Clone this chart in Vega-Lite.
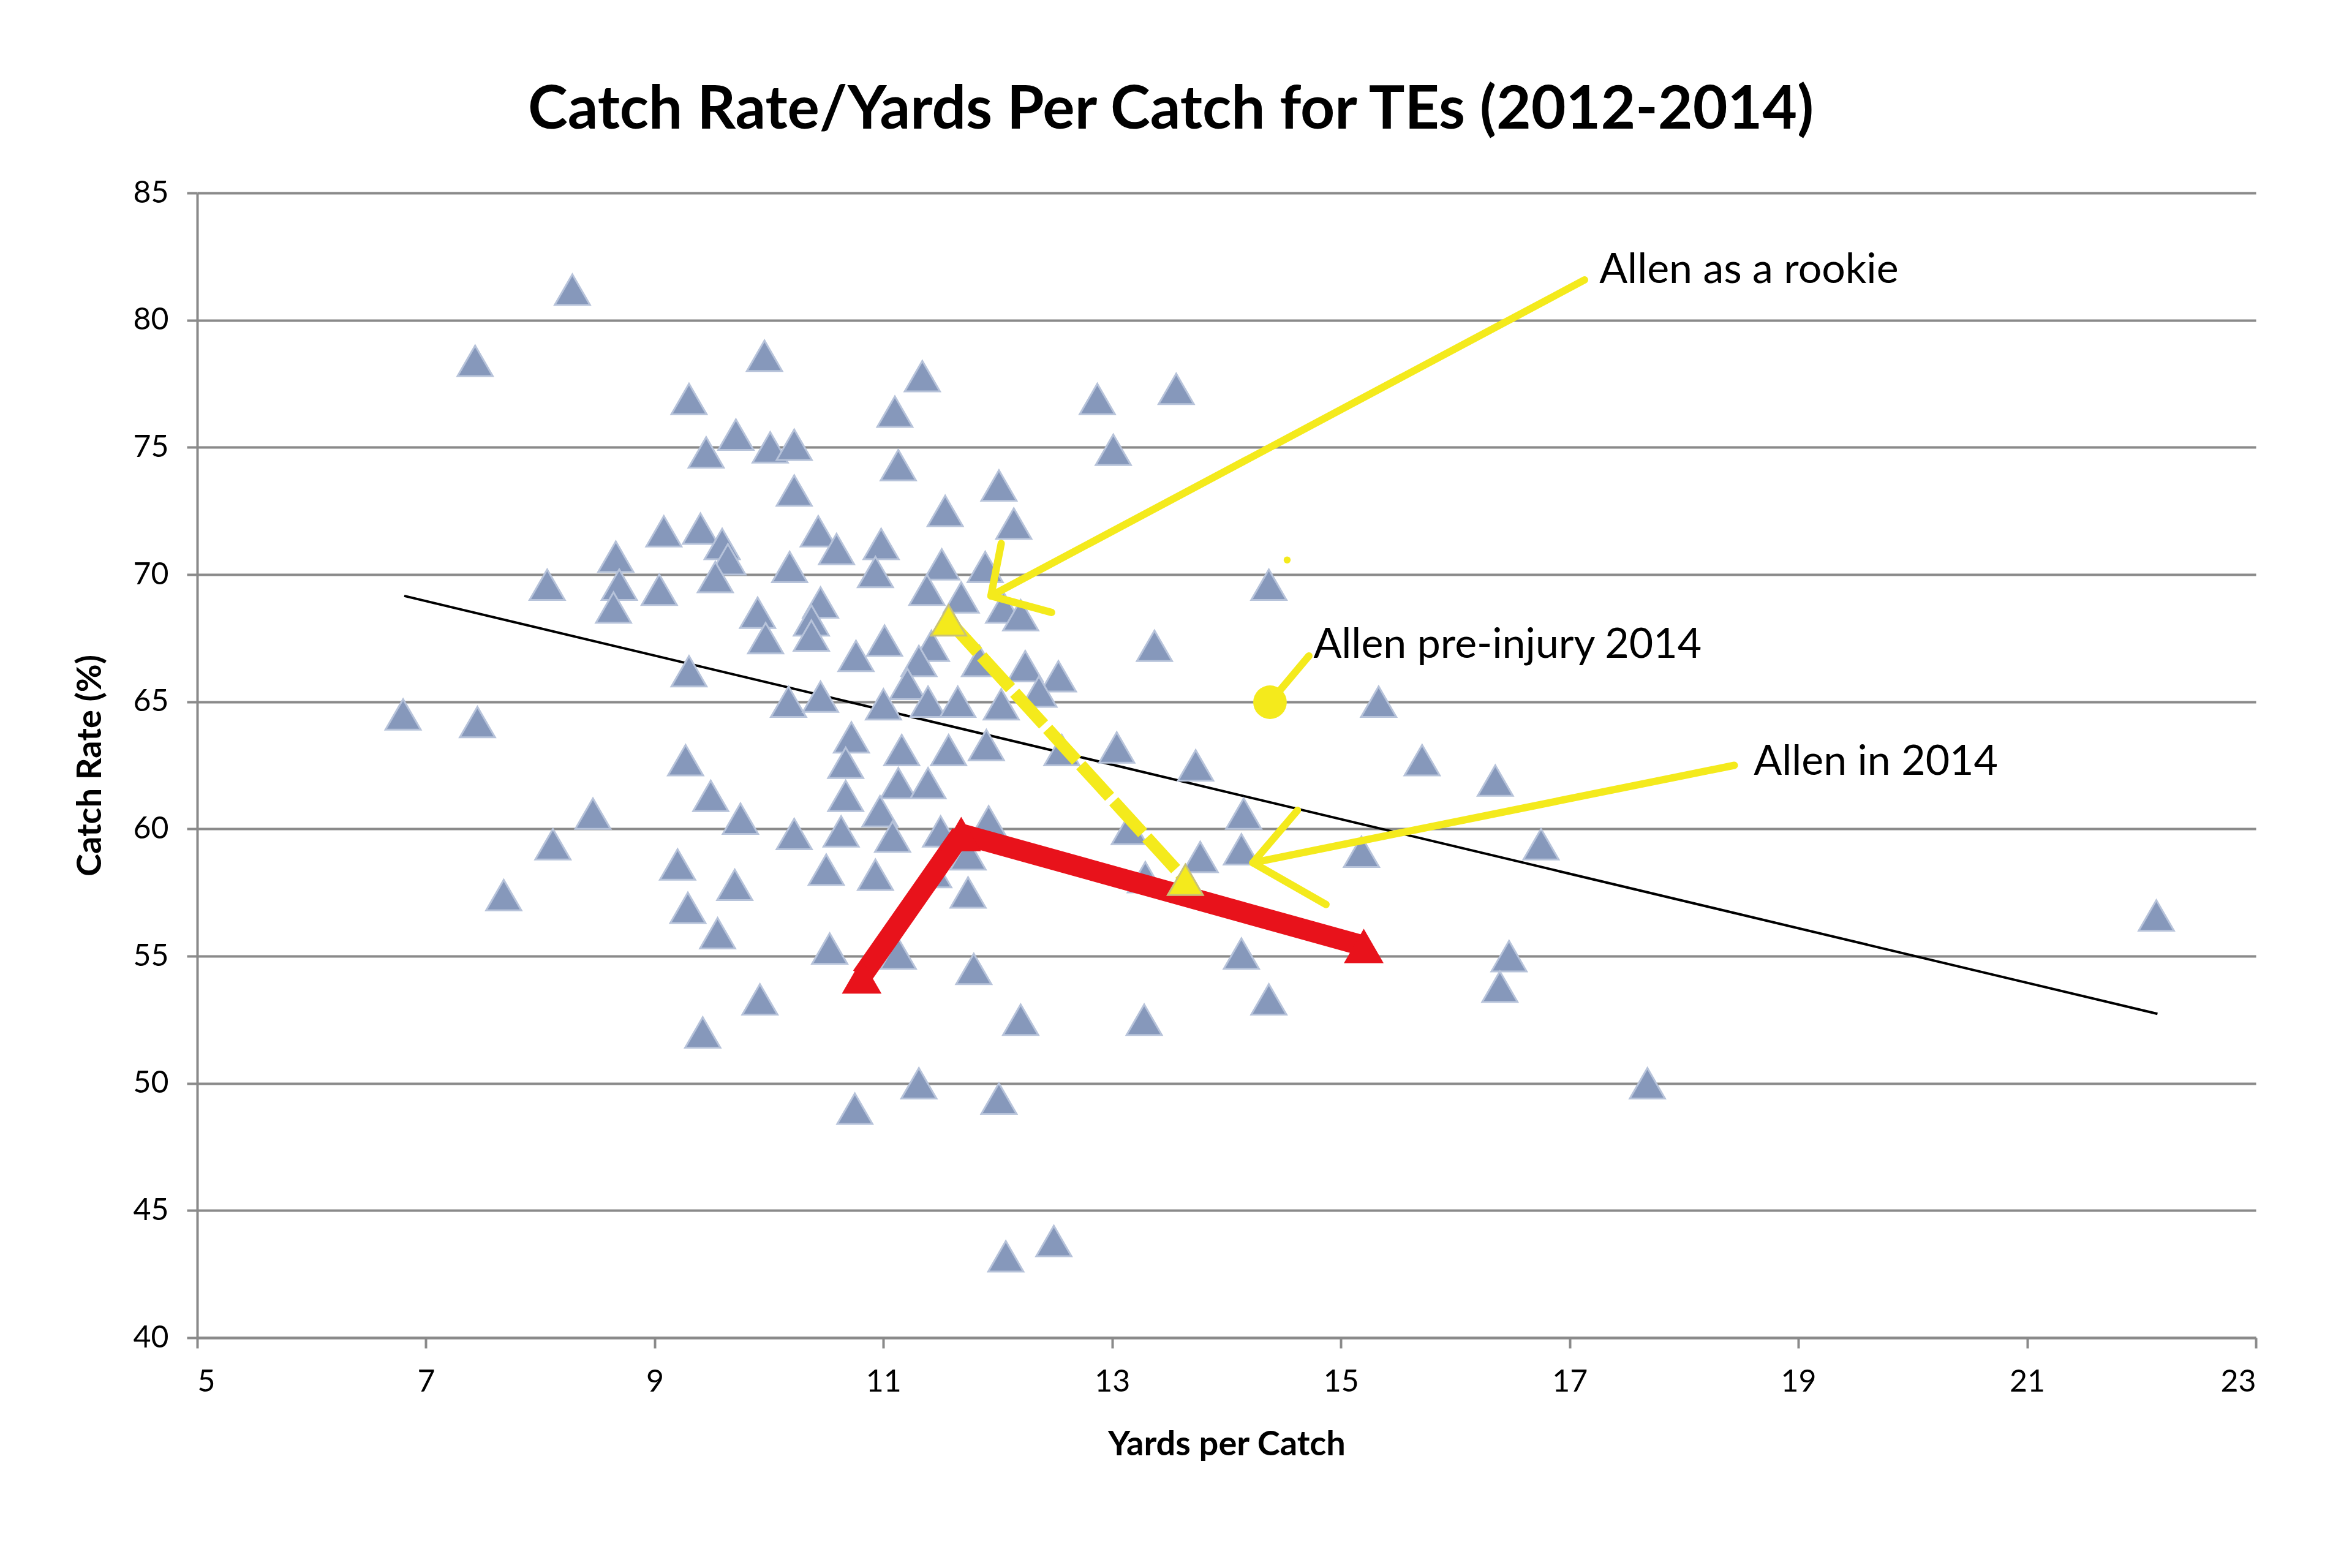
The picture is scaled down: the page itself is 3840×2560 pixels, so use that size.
{
  "$schema": "https://vega.github.io/schema/vega-lite/v6.json",
  "width": 3361,
  "height": 1869,
  "autosize": "none",
  "padding": {"left": 322, "top": 315, "right": 157, "bottom": 376},
  "background": "white",
  "title": {
    "text": "Catch Rate/Yards Per Catch for TEs (2012-2014)",
    "font": "Lato",
    "fontSize": 98,
    "fontWeight": "bold",
    "color": "#000000",
    "anchor": "middle",
    "frame": "group",
    "baseline": "alphabetic",
    "dx": -91,
    "offset": -18
  },
  "datasets": {
    "tes": [
      {"x": 8.28, "y": 81.2}, {"x": 7.43, "y": 78.4}, {"x": 9.96, "y": 78.6}, {"x": 11.34, "y": 77.8},
      {"x": 9.30, "y": 76.9}, {"x": 11.10, "y": 76.4}, {"x": 12.87, "y": 76.9}, {"x": 13.56, "y": 77.3},
      {"x": 9.71, "y": 75.5}, {"x": 9.45, "y": 74.8}, {"x": 10.01, "y": 75.0}, {"x": 10.22, "y": 75.1},
      {"x": 13.01, "y": 74.9}, {"x": 11.13, "y": 74.3}, {"x": 10.22, "y": 73.3}, {"x": 12.01, "y": 73.5},
      {"x": 11.54, "y": 72.5}, {"x": 12.14, "y": 72.0}, {"x": 9.08, "y": 71.7}, {"x": 9.40, "y": 71.8},
      {"x": 10.43, "y": 71.7}, {"x": 9.59, "y": 71.2}, {"x": 10.59, "y": 71.0}, {"x": 10.98, "y": 71.2},
      {"x": 8.66, "y": 70.7}, {"x": 9.64, "y": 70.6}, {"x": 10.18, "y": 70.3}, {"x": 10.93, "y": 70.1},
      {"x": 11.51, "y": 70.4}, {"x": 11.89, "y": 70.3}, {"x": 8.06, "y": 69.6}, {"x": 8.69, "y": 69.6},
      {"x": 9.04, "y": 69.4}, {"x": 9.53, "y": 69.9}, {"x": 11.38, "y": 69.4}, {"x": 11.68, "y": 69.1},
      {"x": 14.37, "y": 69.6}, {"x": 8.64, "y": 68.7}, {"x": 9.90, "y": 68.5}, {"x": 10.45, "y": 68.9},
      {"x": 10.37, "y": 68.2}, {"x": 12.05, "y": 68.7}, {"x": 12.20, "y": 68.4}, {"x": 9.97, "y": 67.5},
      {"x": 10.37, "y": 67.6}, {"x": 10.76, "y": 66.8}, {"x": 11.01, "y": 67.4}, {"x": 11.42, "y": 67.2},
      {"x": 11.31, "y": 66.6}, {"x": 13.37, "y": 67.2}, {"x": 9.30, "y": 66.2}, {"x": 11.84, "y": 66.6},
      {"x": 12.24, "y": 66.4}, {"x": 12.53, "y": 66.0}, {"x": 12.36, "y": 65.4}, {"x": 11.21, "y": 65.7},
      {"x": 10.17, "y": 65.0}, {"x": 10.45, "y": 65.2}, {"x": 11.00, "y": 64.9}, {"x": 11.39, "y": 65.0},
      {"x": 11.65, "y": 65.0}, {"x": 12.03, "y": 64.9}, {"x": 15.33, "y": 65.0}, {"x": 6.80, "y": 64.5},
      {"x": 7.45, "y": 64.2}, {"x": 10.72, "y": 63.6}, {"x": 11.16, "y": 63.1}, {"x": 11.57, "y": 63.1},
      {"x": 11.90, "y": 63.3}, {"x": 12.56, "y": 63.1}, {"x": 13.04, "y": 63.2}, {"x": 9.27, "y": 62.7},
      {"x": 10.67, "y": 62.6}, {"x": 13.73, "y": 62.5}, {"x": 15.71, "y": 62.7}, {"x": 16.35, "y": 61.9},
      {"x": 9.49, "y": 61.3}, {"x": 10.67, "y": 61.3}, {"x": 11.13, "y": 61.8}, {"x": 11.39, "y": 61.8},
      {"x": 10.97, "y": 60.7}, {"x": 8.46, "y": 60.6}, {"x": 9.75, "y": 60.4}, {"x": 14.15, "y": 60.6},
      {"x": 10.22, "y": 59.8}, {"x": 10.63, "y": 59.9}, {"x": 11.08, "y": 59.7}, {"x": 11.50, "y": 59.9},
      {"x": 11.92, "y": 60.3}, {"x": 13.15, "y": 60.0}, {"x": 8.11, "y": 59.4}, {"x": 14.13, "y": 59.2},
      {"x": 15.18, "y": 59.1}, {"x": 16.75, "y": 59.4}, {"x": 11.74, "y": 59.0}, {"x": 13.77, "y": 58.9},
      {"x": 9.20, "y": 58.6}, {"x": 10.50, "y": 58.4}, {"x": 10.93, "y": 58.2}, {"x": 11.44, "y": 58.3},
      {"x": 13.29, "y": 58.1}, {"x": 9.70, "y": 57.8}, {"x": 11.74, "y": 57.5}, {"x": 7.68, "y": 57.4},
      {"x": 9.29, "y": 56.9}, {"x": 9.55, "y": 55.9}, {"x": 22.13, "y": 56.6}, {"x": 10.53, "y": 55.3},
      {"x": 11.13, "y": 55.1}, {"x": 14.13, "y": 55.1}, {"x": 16.47, "y": 55.0}, {"x": 11.79, "y": 54.5},
      {"x": 16.39, "y": 53.8}, {"x": 9.92, "y": 53.3}, {"x": 14.37, "y": 53.3}, {"x": 12.20, "y": 52.5},
      {"x": 13.28, "y": 52.5}, {"x": 9.42, "y": 52.0}, {"x": 17.68, "y": 50.0}, {"x": 11.31, "y": 50.0},
      {"x": 12.01, "y": 49.4}, {"x": 10.75, "y": 49.0}, {"x": 12.07, "y": 43.2}, {"x": 12.49, "y": 43.8}
    ],
    "trend": [
      {"x": 6.81, "y": 69.16}, {"x": 22.14, "y": 52.73}
    ],
    "redlines": [
      {"seg": "a", "i": 0, "x": 11.68, "y": 59.8}, {"seg": "a", "i": 1, "x": 10.81, "y": 54.2},
      {"seg": "b", "i": 0, "x": 11.68, "y": 59.8}, {"seg": "b", "i": 1, "x": 15.2, "y": 55.4}
    ],
    "redpts": [
      {"x": 11.68, "y": 59.8}, {"x": 10.81, "y": 54.2}, {"x": 15.2, "y": 55.4}
    ],
    "conn": [
      {"x": 11.57, "y": 68.2}, {"x": 13.64, "y": 58.0}
    ],
    "arrows": [
      {"seg": "r1", "i": 0, "x": 17.13, "y": 81.58}, {"seg": "r1", "i": 1, "x": 11.94, "y": 69.16},
      {"seg": "r2", "i": 0, "x": 12.03, "y": 71.22}, {"seg": "r2", "i": 1, "x": 11.94, "y": 69.16}, {"seg": "r2", "i": 2, "x": 12.47, "y": 68.51},
      {"seg": "p1", "i": 0, "x": 14.38, "y": 64.98}, {"seg": "p1", "i": 1, "x": 14.72, "y": 66.8},
      {"seg": "n1", "i": 0, "x": 18.44, "y": 62.5}, {"seg": "n1", "i": 1, "x": 14.23, "y": 58.67},
      {"seg": "n2", "i": 0, "x": 14.62, "y": 60.73}, {"seg": "n2", "i": 1, "x": 14.23, "y": 58.67}, {"seg": "n2", "i": 2, "x": 14.87, "y": 57.03}
    ],
    "dots": [
      {"x": 14.38, "y": 64.98, "s": "big"}, {"x": 14.53, "y": 70.57, "s": "small"}
    ],
    "labels": [
      {"x": 17.26, "y": 81.94, "t": "Allen as a rookie"},
      {"x": 14.76, "y": 67.2, "t": "Allen pre-injury 2014"},
      {"x": 18.61, "y": 62.62, "t": "Allen in 2014"}
    ]
  },
  "encoding": {
    "x": {
      "field": "x", "type": "quantitative",
      "scale": {"domain": [5, 23], "nice": false, "zero": false},
      "axis": {"title": "Yards per Catch", "values": [5, 7, 9, 11, 13, 15, 17, 19, 21, 23], "grid": false, "titlePadding": 50}
    },
    "y": {
      "field": "y", "type": "quantitative",
      "scale": {"domain": [40, 85], "nice": false, "zero": false},
      "axis": {"title": "Catch Rate (%)", "values": [40, 45, 50, 55, 60, 65, 70, 75, 80, 85], "grid": true}
    }
  },
  "layer": [
    {
      "data": {"name": "trend"},
      "mark": {"type": "line", "color": "#000000", "strokeWidth": 4}
    },
    {
      "data": {"name": "tes"},
      "mark": {"type": "point", "shape": "triangle-up", "filled": true, "size": 3300,
        "fill": "#8698bb", "stroke": "#b7c3da", "strokeWidth": 3, "opacity": 1}
    },
    {
      "data": {"name": "redlines"},
      "mark": {"type": "line", "color": "#e8121b", "strokeWidth": 34},
      "encoding": {"detail": {"field": "seg"}, "order": {"field": "i"}}
    },
    {
      "data": {"name": "redpts"},
      "mark": {"type": "point", "shape": "triangle-up", "filled": true, "size": 4200,
        "fill": "#e8121b", "opacity": 1}
    },
    {
      "data": {"name": "conn"},
      "mark": {"type": "line", "color": "#f4ea1c", "strokeWidth": 20, "strokeDash": [70, 10]}
    },
    {
      "data": {"name": "conn"},
      "mark": {"type": "point", "shape": "triangle-up", "filled": true, "size": 3300,
        "fill": "#f4ea1c", "stroke": "#c9c277", "strokeWidth": 3, "opacity": 1}
    },
    {
      "data": {"name": "arrows"},
      "mark": {"type": "line", "color": "#f4ea1c", "strokeWidth": 12, "strokeCap": "round", "strokeJoin": "round"},
      "encoding": {"detail": {"field": "seg"}, "order": {"field": "i"}}
    },
    {
      "data": {"name": "dots"},
      "mark": {"type": "point", "shape": "circle", "filled": true, "fill": "#f4ea1c", "opacity": 1},
      "encoding": {
        "size": {"field": "s", "type": "nominal", "scale": {"domain": ["big", "small"], "range": [3000, 130]}, "legend": null}
      }
    },
    {
      "data": {"name": "labels"},
      "mark": {"type": "text", "align": "left", "baseline": "middle", "font": "Lato", "fontSize": 68, "color": "#000000"},
      "encoding": {"text": {"field": "t"}}
    }
  ],
  "config": {
    "view": {"stroke": null},
    "axis": {
      "labelFont": "Lato",
      "labelFontSize": 50,
      "labelColor": "#000000",
      "titleFont": "Lato",
      "titleFontSize": 56,
      "titleFontWeight": "bold",
      "titleColor": "#000000",
      "domainColor": "#8a8a8a",
      "domainWidth": 4,
      "tickColor": "#8a8a8a",
      "tickWidth": 4,
      "tickSize": 17,
      "gridColor": "#8a8a8a",
      "gridWidth": 4,
      "labelPadding": 30,
      "titlePadding": 40
    }
  }
}
